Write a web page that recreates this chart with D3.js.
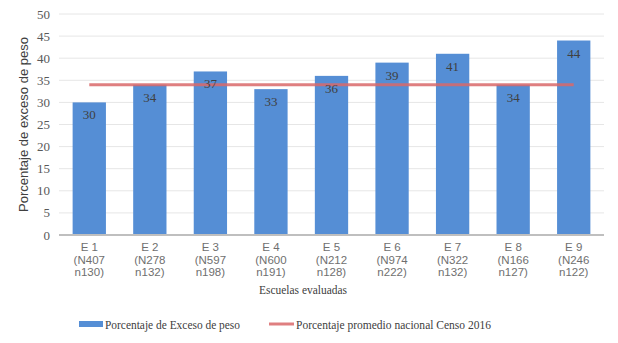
<!DOCTYPE html>
<html>
<head>
<meta charset="utf-8">
<script src="https://cdn.jsdelivr.net/npm/d3@7"></script>
<style>
  body { margin: 0; background: #fff; }
</style>
</head>
<body>
<div id="chart"></div>
<script>
// Escuelas evaluadas
const schools = ['E 1', 'E 2', 'E 3', 'E 4', 'E 5', 'E 6', 'E 7', 'E 8', 'E 9'];
const bigN = ['(N407', '(N278', '(N597', '(N600', '(N212', '(N974', '(N322', '(N166', '(N246'];
const smallN = ['n130)', 'n132)', 'n198)', 'n191)', 'n128)', 'n222)', 'n132)', 'n127)', 'n122)'];
const excess = [30, 34, 37, 33, 36, 39, 41, 34, 44];
const nationalAvg = 34;
const yTicks = [0, 5, 10, 15, 20, 25, 30, 35, 40, 45, 50];

const size = { width: 618, height: 343 };
const margin = { top: 14, right: 14, bottom: 108, left: 59 };

const sans = 'Liberation Sans, Arial, sans-serif';
const serif = 'Liberation Serif, DejaVu Serif, serif';

const svg = d3.select('#chart')
  .append('svg')
  .attr('width', size.width)
  .attr('height', size.height);

/*
   Scales
 */
const x = d3.scaleBand()
  .domain(schools)
  .range([margin.left, size.width - margin.right])
  .paddingInner(0.45)
  .paddingOuter(0.225);

const y = d3.scaleLinear()
  .domain([0, 50])
  .range([size.height - margin.bottom, margin.top]);

// gridlines
svg.append('g')
  .selectAll('line')
  .data(yTicks.slice(1))
  .enter()
  .append('line')
  .attr('x1', margin.left)
  .attr('x2', size.width - margin.right)
  .attr('y1', (d) => y(d))
  .attr('y2', (d) => y(d))
  .attr('stroke', '#e6e6e6')
  .attr('stroke-width', 1);

// y tick labels
svg.append('g')
  .selectAll('text')
  .data(yTicks)
  .enter()
  .append('text')
  .text((d) => d)
  .attr('x', 50)
  .attr('y', (d) => y(d) + 4.5)
  .attr('text-anchor', 'end')
  .attr('font-family', serif)
  .attr('font-size', '13px')
  .attr('fill', '#595959');

// y axis title
svg.append('text')
  .text('Porcentaje de exceso de peso')
  .attr('transform', `translate(28, ${y(25)}) rotate(-90)`)
  .attr('text-anchor', 'middle')
  .attr('font-family', sans)
  .attr('font-size', '13px')
  .attr('fill', '#404040');

/*
   Bars
 */
svg.append('g')
  .attr('fill', '#558ed5')
  .selectAll('rect')
  .data(excess)
  .enter()
  .append('rect')
  .attr('x', (d, i) => x(schools[i]))
  .attr('width', x.bandwidth())
  .attr('y', (d) => y(d))
  .attr('height', (d) => y(0) - y(d));

// baseline
svg.append('line')
  .attr('x1', margin.left)
  .attr('x2', size.width - margin.right)
  .attr('y1', y(0))
  .attr('y2', y(0))
  .attr('stroke', '#bfbfbf')
  .attr('stroke-width', 2);

// national average line
svg.append('line')
  .attr('x1', x(schools[0]) + x.bandwidth() / 2)
  .attr('x2', x(schools[schools.length - 1]) + x.bandwidth() / 2)
  .attr('y1', y(nationalAvg))
  .attr('y2', y(nationalAvg))
  .attr('stroke', '#d9686a')
  .attr('stroke-opacity', 0.85)
  .attr('stroke-width', 3);

// data labels
svg.append('g')
  .selectAll('text')
  .data(excess)
  .enter()
  .append('text')
  .text((d) => d)
  .attr('x', (d, i) => x(schools[i]) + x.bandwidth() / 2)
  .attr('y', (d) => y(d) + 17)
  .attr('text-anchor', 'middle')
  .attr('font-family', serif)
  .attr('font-size', '13px')
  .attr('fill', '#404040');

// x tick labels (three lines)
const xLabels = svg.append('g')
  .attr('font-family', sans)
  .attr('font-size', '11.5px')
  .attr('fill', '#6f6f6f')
  .attr('text-anchor', 'middle');

schools.forEach((s, i) => {
  const cx = x(s) + x.bandwidth() / 2;
  [s, bigN[i], smallN[i]].forEach((t, j) => {
    xLabels.append('text')
      .text(t)
      .attr('x', cx)
      .attr('y', 251 + j * 12.6);
  });
});

// x axis title
svg.append('text')
  .text('Escuelas evaluadas')
  .attr('x', 303)
  .attr('y', 294)
  .attr('text-anchor', 'middle')
  .attr('font-family', serif)
  .attr('font-size', '13px')
  .attr('textLength', 88)
  .attr('lengthAdjust', 'spacingAndGlyphs')
  .attr('fill', '#404040');

/*
   Legend
 */
const legend = svg.append('g')
  .attr('font-family', serif)
  .attr('font-size', '13px')
  .attr('fill', '#404040');

legend.append('rect')
  .attr('x', 79)
  .attr('y', 321)
  .attr('width', 24)
  .attr('height', 6)
  .attr('fill', '#558ed5');

legend.append('text')
  .text('Porcentaje de Exceso de peso')
  .attr('x', 105)
  .attr('y', 328.5)
  .attr('textLength', 135)
  .attr('lengthAdjust', 'spacingAndGlyphs');

legend.append('line')
  .attr('x1', 269)
  .attr('x2', 294)
  .attr('y1', 324)
  .attr('y2', 324)
  .attr('stroke', '#d9686a')
  .attr('stroke-opacity', 0.85)
  .attr('stroke-width', 3);

legend.append('text')
  .text('Porcentaje promedio nacional Censo 2016')
  .attr('x', 296)
  .attr('y', 328.5)
  .attr('textLength', 195)
  .attr('lengthAdjust', 'spacingAndGlyphs');
</script>
</body>
</html>
